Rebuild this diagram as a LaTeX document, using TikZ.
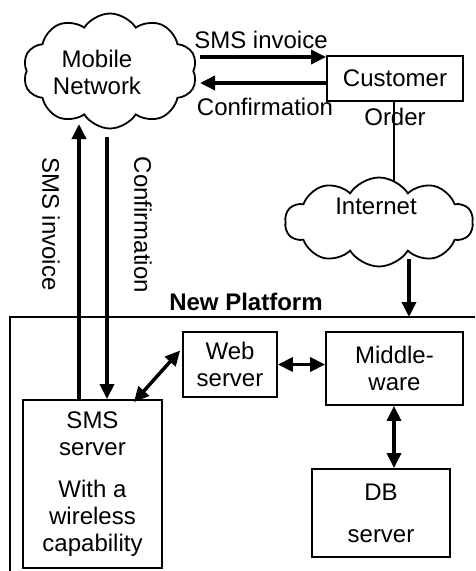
\documentclass[tikz,border=0pt]{standalone}
\usepackage{fontspec}
\setmainfont{Liberation Sans}
\usetikzlibrary{arrows.meta,shapes.symbols,calc}
\tikzset{
  box/.style={draw,line width=1.8pt,inner sep=0pt,align=center,font=\fontsize{24}{27}\selectfont},
  cloudy/.style={draw,cloud,cloud puffs=10,cloud puff arc=115,cloud ignores aspect,line width=1.8pt,inner sep=0pt},
  lbl/.style={font=\fontsize{24}{27}\selectfont,inner sep=0pt,align=center},
  flow/.style={line width=3.5pt,-{Triangle[length=15pt,width=14pt]}},
  both/.style={line width=3.5pt,{Triangle[length=15pt,width=14pt]}-{Triangle[length=15pt,width=14pt]}},
}

\begin{document}
\begin{tikzpicture}[x=1pt,y=-1pt]
    \useasboundingbox (0,0) rectangle (475,571);
    % outside world
    \node[cloudy,minimum width=174pt,minimum height=115pt] (mobile) at (110,71) {};
    \node[lbl] (mobiletxt) at (97,72) {Mobile\\Network};
    \node[box,minimum width=136pt,minimum height=45pt] (customer) at (395,78.5) {Customer};
    \node[cloudy,minimum width=188pt,minimum height=89pt] (internet) at (379,222) {};
    \node[lbl] (internettxt) at (376,206) {Internet};
    \coordinate (nettop) at (394,181);
    \draw[line width=1.8pt] (customer.south -| nettop) -- (nettop);
    \node[lbl] (order) at (395,117) {Order};
    % the platform
    \draw[line width=2pt] (10,571) -- (10,317) -- (475,317);
    \node[lbl,font=\bfseries\fontsize{24}{27}\selectfont] (platform) at (246,302) {New Platform};
    \node[box,minimum width=139pt,minimum height=168pt] (sms) at (92.5,484) {SMS\\server\\[15pt]With a\\wireless\\capability};
    \node[box,minimum width=94pt,minimum height=65pt] (web) at (230,364.5) {Web\\server};
    \node[box,minimum width=137pt,minimum height=73pt] (middle) at (394.5,368.5) {Middle-\\ware};
    \node[box,minimum width=138pt,minimum height=88pt] (db) at (381,513) {DB\\[15pt]server};
    % messages
    \coordinate (invstart) at (200,57);
    \coordinate (confend) at (200,83);
    \draw[flow] (invstart) -- (invstart -| customer.west);
    \draw[flow] (confend -| customer.west) -- (confend);
    \node[lbl] (invlbl) at (261,40) {SMS invoice};
    \node[lbl] (conflbl) at (265,107) {Confirmation};
    \coordinate (smstop) at (79,124);
    \coordinate (conftop) at (107,137);
    \draw[flow] (sms.north -| smstop) -- (smstop);
    \draw[flow] (conftop) -- (sms.north -| conftop);
    \node[lbl,rotate=-90] (smslbl) at (51,224) {SMS invoice};
    \node[lbl,rotate=-90] (confvlbl) at (143,225) {Confirmation};
    \coordinate (netout) at (409,259);
    \coordinate (netin) at (409,317);
    \draw[flow] (netout) -- (netin);
    % inside links
    \draw[both] ($(sms.north east)+(-29,3)$) -- ($(web.west)+(-2,-14)$);
    \draw[both] (web.east) -- (web.east -| middle.west);
    \draw[both] (middle.south -| 394,0) -- (db.north -| 394,0);
\end{tikzpicture}
\end{document}
